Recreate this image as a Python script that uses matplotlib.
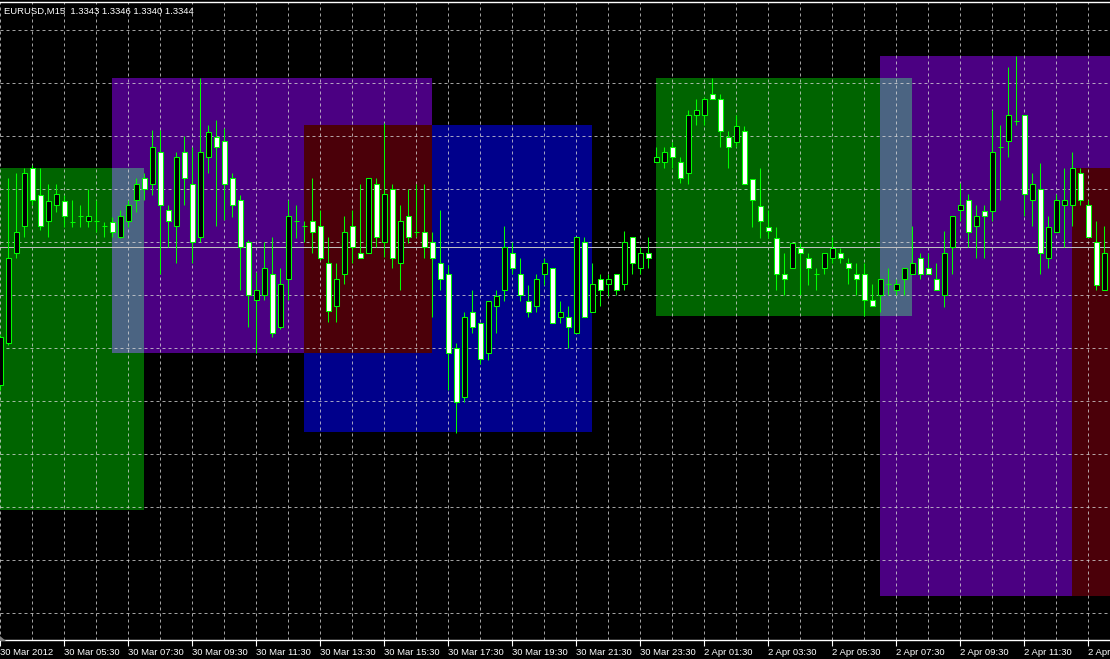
import matplotlib.pyplot as plt
from matplotlib.patches import Rectangle, Polygon
import numpy as np

# EURUSD M15, one bar every 15 minutes starting 30 Mar 2012 03:30
opens = [1.33045, 1.33164, 1.33419, 1.33495, 1.33659, 1.33583, 1.33509, 1.33555, 1.33566, 1.33507,
         1.33524, 1.33509, 1.33509, 1.33495, 1.33507, 1.33464, 1.33509, 1.33569, 1.33631, 1.33614,
         1.33705, 1.33541, 1.33495, 1.33705, 1.33614, 1.33464, 1.33691, 1.33747, 1.33736, 1.33631,
         1.33569, 1.33450, 1.33286, 1.33300, 1.33359, 1.33209, 1.33345, 1.33509, 1.33495, 1.33509,
         1.33495, 1.33391, 1.33269, 1.33359, 1.33495, 1.33419, 1.33419, 1.33614, 1.33450, 1.33600,
         1.33391, 1.33524, 1.33478, 1.33478, 1.33450, 1.33391, 1.33359, 1.33150, 1.33011, 1.33252,
         1.33221, 1.33136, 1.33269, 1.33314, 1.33419, 1.33359, 1.33283, 1.33269, 1.33359, 1.33376,
         1.33238, 1.33238, 1.33193, 1.33450, 1.33252, 1.33345, 1.33331, 1.33359, 1.33331, 1.33464,
         1.33376, 1.33419, 1.33676, 1.33676, 1.33719, 1.33676, 1.33645, 1.33809, 1.33809, 1.33869,
         1.33855, 1.33747, 1.33733, 1.33764, 1.33628, 1.33552, 1.33492, 1.33461, 1.33359, 1.33376,
         1.33433, 1.33405, 1.33359, 1.33376, 1.33405, 1.33419, 1.33391, 1.33359, 1.33359, 1.33286,
         1.33300, 1.33331, 1.33314, 1.33345, 1.33359, 1.33405, 1.33376, 1.33345, 1.33300, 1.33436,
         1.33541, 1.33569, 1.33495, 1.33538, 1.33538, 1.33719, 1.33736, 1.33792, 1.33809, 1.33569,
         1.33600, 1.33405, 1.33478, 1.33555, 1.33555, 1.33645, 1.33555, 1.33450, 1.33314]
highs = [1.33187, 1.33631, 1.33645, 1.33659, 1.33668, 1.33659, 1.33614, 1.33614, 1.33583, 1.33569,
         1.33555, 1.33600, 1.33569, 1.33507, 1.33521, 1.33541, 1.33569, 1.33631, 1.33645, 1.33767,
         1.33767, 1.33555, 1.33705, 1.33750, 1.33719, 1.33914, 1.33781, 1.33795, 1.33773, 1.33645,
         1.33583, 1.33456, 1.33365, 1.33450, 1.33464, 1.33376, 1.33569, 1.33555, 1.33509, 1.33631,
         1.33541, 1.33464, 1.33391, 1.33524, 1.33541, 1.33614, 1.33631, 1.33631, 1.33787, 1.33614,
         1.33555, 1.33600, 1.33614, 1.33614, 1.33478, 1.33541, 1.33385, 1.33164, 1.33252, 1.33314,
         1.33221, 1.33283, 1.33314, 1.33495, 1.33450, 1.33405, 1.33328, 1.33359, 1.33405, 1.33376,
         1.33283, 1.33269, 1.33464, 1.33464, 1.33391, 1.33359, 1.33359, 1.33359, 1.33481, 1.33464,
         1.33436, 1.33464, 1.33719, 1.33719, 1.33733, 1.33691, 1.33824, 1.33855, 1.33860, 1.33914,
         1.33869, 1.33764, 1.33809, 1.33778, 1.33628, 1.33659, 1.33541, 1.33492, 1.33419, 1.33447,
         1.33447, 1.33419, 1.33376, 1.33419, 1.33464, 1.33433, 1.33405, 1.33391, 1.33391, 1.33331,
         1.33345, 1.33376, 1.33345, 1.33376, 1.33495, 1.33419, 1.33419, 1.33391, 1.33481, 1.33524,
         1.33617, 1.33586, 1.33555, 1.33555, 1.33824, 1.33781, 1.33945, 1.33976, 1.33809, 1.33645,
         1.33674, 1.33524, 1.33586, 1.33659, 1.33705, 1.33659, 1.33569, 1.33509, 1.33495]
lows = [1.33031, 1.33159, 1.33405, 1.33464, 1.33555, 1.33484, 1.33464, 1.33535, 1.33492, 1.33492,
        1.33492, 1.33492, 1.33478, 1.33464, 1.33464, 1.33461, 1.33492, 1.33535, 1.33569, 1.33583,
        1.33359, 1.33436, 1.33391, 1.33555, 1.33391, 1.33450, 1.33645, 1.33495, 1.33512, 1.33521,
        1.33314, 1.33209, 1.33136, 1.33286, 1.33181, 1.33203, 1.33286, 1.33461, 1.33450, 1.33419,
        1.33399, 1.33224, 1.33224, 1.33331, 1.33391, 1.33405, 1.33419, 1.33436, 1.33408, 1.33376,
        1.33314, 1.33447, 1.33464, 1.33405, 1.33238, 1.33314, 1.33031, 1.32910, 1.32997, 1.33193,
        1.33105, 1.33116, 1.33193, 1.33283, 1.33359, 1.33283, 1.33238, 1.33252, 1.33328, 1.33221,
        1.33221, 1.33150, 1.33193, 1.33238, 1.33252, 1.33269, 1.33297, 1.33300, 1.33314, 1.33359,
        1.33359, 1.33376, 1.33676, 1.33659, 1.33659, 1.33617, 1.33614, 1.33781, 1.33781, 1.33855,
        1.33719, 1.33659, 1.33719, 1.33614, 1.33492, 1.33461, 1.33461, 1.33314, 1.33300, 1.33376,
        1.33300, 1.33328, 1.33314, 1.33359, 1.33391, 1.33391, 1.33331, 1.33300, 1.33241, 1.33269,
        1.33252, 1.33300, 1.33300, 1.33300, 1.33359, 1.33345, 1.33359, 1.33314, 1.33266, 1.33359,
        1.33509, 1.33436, 1.33405, 1.33405, 1.33509, 1.33569, 1.33691, 1.33781, 1.33524, 1.33495,
        1.33359, 1.33376, 1.33478, 1.33436, 1.33495, 1.33555, 1.33464, 1.33314, 1.33314]
closes = [1.33181, 1.33405, 1.33478, 1.33645, 1.33569, 1.33495, 1.33566, 1.33586, 1.33524, 1.33507,
          1.33524, 1.33524, 1.33509, 1.33495, 1.33478, 1.33524, 1.33555, 1.33614, 1.33600, 1.33719,
          1.33555, 1.33509, 1.33691, 1.33631, 1.33450, 1.33705, 1.33761, 1.33719, 1.33614, 1.33555,
          1.33436, 1.33300, 1.33314, 1.33376, 1.33193, 1.33331, 1.33524, 1.33509, 1.33495, 1.33478,
          1.33405, 1.33255, 1.33345, 1.33478, 1.33436, 1.33405, 1.33631, 1.33464, 1.33586, 1.33405,
          1.33509, 1.33464, 1.33478, 1.33436, 1.33405, 1.33345, 1.33136, 1.32997, 1.33238, 1.33209,
          1.33119, 1.33283, 1.33297, 1.33436, 1.33376, 1.33300, 1.33252, 1.33345, 1.33391, 1.33221,
          1.33252, 1.33209, 1.33464, 1.33238, 1.33331, 1.33314, 1.33345, 1.33314, 1.33450, 1.33391,
          1.33419, 1.33405, 1.33691, 1.33705, 1.33691, 1.33631, 1.33809, 1.33824, 1.33855, 1.33855,
          1.33764, 1.33719, 1.33778, 1.33614, 1.33569, 1.33509, 1.33481, 1.33359, 1.33345, 1.33447,
          1.33419, 1.33376, 1.33359, 1.33419, 1.33433, 1.33405, 1.33376, 1.33345, 1.33286, 1.33269,
          1.33345, 1.33331, 1.33331, 1.33376, 1.33391, 1.33359, 1.33359, 1.33314, 1.33419, 1.33524,
          1.33555, 1.33478, 1.33524, 1.33524, 1.33705, 1.33719, 1.33809, 1.33792, 1.33586, 1.33614,
          1.33419, 1.33492, 1.33569, 1.33569, 1.33659, 1.33569, 1.33464, 1.33328, 1.33419]

tick_labels = ["30 Mar 2012", "30 Mar 05:30", "30 Mar 07:30", "30 Mar 09:30", "30 Mar 11:30",
               "30 Mar 13:30", "30 Mar 15:30", "30 Mar 17:30", "30 Mar 19:30", "30 Mar 21:30",
               "30 Mar 23:30", "2 Apr 01:30", "2 Apr 03:30", "2 Apr 05:30", "2 Apr 07:30",
               "2 Apr 09:30", "2 Apr 11:30", "2 Apr 13:30"]

# rectangles drawn on the chart (bar index from/to, price low/high)
box_start = [-5, 14, 38, 82, 110, 134]
box_end = [18, 54, 74, 114, 150, 150]
box_low = [1.32692, 1.33137, 1.32911, 1.33241, 1.32448, 1.32448]
box_high = [1.33659, 1.33914, 1.33781, 1.33914, 1.33977, 1.33659]
box_color = ['#006400', '#4b0082', '#00008b', '#006400', '#4b0082', '#00008b']

bid = 1.33435
header = "EURUSD,M15  1.3343 1.3346 1.3340 1.3344"


def xor_color(a, b):
    # MT4 mixes overlapping rectangles with XOR
    v = int(a[1:], 16) ^ int(b[1:], 16)
    return '#%06x' % v


fig = plt.figure(figsize=(11.1, 6.59), dpi=100, facecolor='black')
ax = fig.add_axes([0, 19/659, 1, 638/659])
ax.set_facecolor('black')
ax.set_xlim(-0.0375, 138.7125)
ax.set_ylim(1.323237, 1.341292)

# rectangles and their overlaps
n_box = len(box_start)
for k in range(n_box):
    ax.add_patch(Rectangle((box_start[k], box_low[k]), box_end[k] - box_start[k],
                           box_high[k] - box_low[k], facecolor=box_color[k],
                           edgecolor='none', zorder=0.1))
for j in range(n_box):
    for k in range(j + 1, n_box):
        x0 = max(box_start[j], box_start[k])
        x1 = min(box_end[j], box_end[k])
        y0 = max(box_low[j], box_low[k])
        y1 = min(box_high[j], box_high[k])
        if x1 > x0 and y1 > y0:
            ax.add_patch(Rectangle((x0, y0), x1 - x0, y1 - y0,
                                   facecolor=xor_color(box_color[j], box_color[k]),
                                   edgecolor='none', zorder=0.2))

# grid
ax.set_axisbelow('line')
ax.set_xticks(np.arange(0, 139, 8))
ax.set_xticks(np.arange(4, 139, 8), minor=True)
ax.set_xticklabels(tick_labels, ha='left')
ax.set_yticks(np.arange(13240, 13406, 15) / 10000)
ax.grid(True, which='both', color='#d8d8d8', alpha=0.75, linestyle=(0, (3, 3)), linewidth=0.72)
ax.tick_params(axis='y', left=False, labelleft=False)
ax.tick_params(axis='x', which='major', colors='white', length=4, width=0.8, pad=2,
               labelsize=6.8)
ax.tick_params(axis='x', which='minor', length=0)
for lbl in ax.get_xticklabels():
    lbl.set_family(['Liberation Sans Narrow', 'Liberation Sans'])

for side in ['left', 'right']:
    ax.spines[side].set_visible(False)
for side in ['top', 'bottom']:
    ax.spines[side].set_color('white')
    ax.spines[side].set_linewidth(1)

# bid line
ax.axhline(bid, color='#c0c0c0', linewidth=0.75, zorder=2)

# candles
o = np.array(opens)
h = np.array(highs)
l = np.array(lows)
c = np.array(closes)
x = np.arange(len(o))
fills = np.where(c > o, 'black', 'white')
ax.vlines(x, l, h, colors='#00ff00', linewidth=0.75, zorder=3)
ax.bar(x, np.abs(c - o), bottom=np.minimum(o, c), width=0.6, color=fills,
       edgecolor='#00ff00', linewidth=0.75, zorder=4)

fig.text(4/1110, 1 - 11/659, header, color='white', fontsize=6.8, va='center', ha='left',
         family='Liberation Sans')

# small chart shift marker
fig.add_artist(Polygon([[0, 23/659], [0, 18/659], [6/1110, 18/659]], closed=True,
                       facecolor='#808080', edgecolor='none', transform=fig.transFigure))

fig.savefig('out.png', dpi=100, facecolor='black')
